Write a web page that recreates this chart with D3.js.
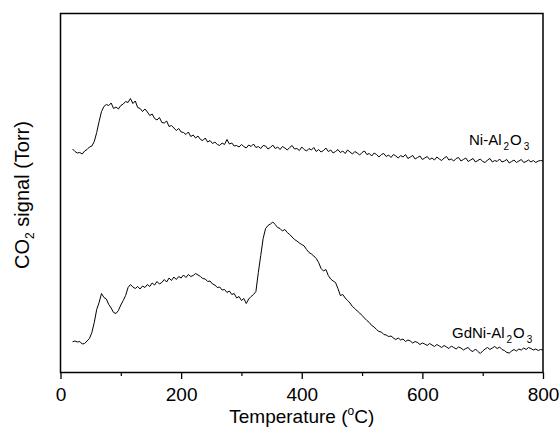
<!DOCTYPE html>
<html><head><meta charset="utf-8">
<script src="https://cdn.jsdelivr.net/npm/d3@7"></script>
<style>body{margin:0;background:#fff} text{font-family:Arial,"Liberation Sans",sans-serif;fill:#000}</style>
</head><body><svg id="c" width="560" height="431"></svg>
<script>
// Temperature (°C)
const temps = [20,24,28,32,36,40,44,48,52,56,60,64,68,72,76,80,84,88,92,96,100,104,108,112,116,120,124,128,132,136,140,144,148,152,156,160,164,168,172,176,180,184,188,192,196,200,204,208,212,216,220,224,228,232,236,240,244,248,252,256,260,264,268,272,276,280,284,288,292,296,300,304,308,312,316,320,324,328,332,336,340,344,348,352,356,360,364,368,372,376,380,384,388,392,396,400,404,408,412,416,420,424,428,432,436,440,444,448,452,456,460,464,468,472,476,480,484,488,492,496,500,504,508,512,516,520,524,528,532,536,540,544,548,552,556,560,564,568,572,576,580,584,588,592,596,600,604,608,612,616,620,624,628,632,636,640,644,648,652,656,660,664,668,672,676,680,684,688,692,696,700,704,708,712,716,720,724,728,732,736,740,744,748,752,756,760,764,768,772,776,780,784,788,792,796,800];
// CO2 signal, Ni-Al2O3 (arbitrary units, offset trace)
const niValues = [223.5,221,219.5,220,218.5,221.5,223,225.5,226.5,231,240,251,261,266,268,267,269.5,264,265.5,263.5,267,268.5,271,270,274,269,271.5,265,264,261,263.5,260.5,257,258.5,254,252.5,255,250,249.5,251.5,246,247,244.5,242,244,240.5,240,238,240.5,236,237.5,234.5,236.5,233,232,234.5,230.5,232,229,230.5,228,227,229.5,228,233,228.5,229.5,226.5,227,225.5,228,226,224.5,227.5,226,228.5,225,226,224,227,226.5,223.5,225,227.5,224,225.5,223,226,224.5,222.5,225,227,223.5,224,222,225.5,223,221.5,224,222.5,225,221,223,220.5,222,224.5,221,222.5,219.5,221,223,220,221.5,219,222.5,220.5,218.5,221,219.5,217.5,220,221.5,218,219,216.5,219.5,218,215.5,218,219,216,217.5,215,218,216.5,214.5,217,215.5,218,214,215.5,217,213.5,215,216.5,213,214.5,216,213,214.5,212.5,215.5,213.5,212,214.5,216,212.5,213.5,211.5,214,215,211.5,213,214.5,211,212.5,214,210.5,212,213.5,211,210,212.5,214,210.5,212,211,213.5,210.5,211.5,213,209.5,211,212.5,210,211.5,213,210,211,212.5,210.5,212,210,211.5,212,211.5];
// CO2 signal, GdNi-Al2O3
const gdniValues = [30.8,31.5,30.5,31,28.5,29,31.5,34,40,50,63,70,79,75,73.5,68,64.5,60,59,62,67.5,72,77,85,88,85.5,84,86,83.5,86.5,85,88,86,89.5,87.5,91,88.5,90,93,90.5,94.5,92,95.5,93,96,94.5,97.5,95,98,96,97,99,97.5,96,94,93.5,91,91.5,88.5,87.5,85,85.5,82.5,83,80,81.5,78,79,74.5,76,72,74,69,73.5,76,78,81,100,117,134,144,147,148.5,150.5,148,145,144,141.5,143,140,138,135.5,133,131.5,129.5,128,126.5,123,120,118.5,116.5,114,110,104,101.5,103,97,93.5,91.5,90,84,77,78,74.5,72,69.5,66,64,61.5,59.5,57,54.5,52,50,47,45.5,43,41,40.5,38,37.5,36,36.5,34.5,33,34.5,32.5,33.5,31,32.5,31.5,29.5,31,30,28,29.5,28.5,27,29,27.5,26,28,26.5,25,27,25.5,24,26.5,25,23.5,25.5,24.5,22.5,24,25,22,21,23.5,21,19,21.5,23.5,25,23,24.5,26,24,25.5,23,22,20,19.5,21.5,23,21.5,23.5,22.5,24.5,23,25,24,22.5,23.5,22,23,22.5];
const xTicks = [0,200,400,600,800];
const xMinorTicks = [100,300,500,700];
const seriesNames = [["Ni-Al","2","O","3"],["GdNi-Al","2","O","3"]];

const svg = d3.select("#c");
const L = 60.5, R = 543, T = 13.5, B = 372.5;
const x = d3.scaleLinear().domain([0,800]).range([L,R]);
const y = d3.scaleLinear().domain([0,359]).range([B,T]);

const line = d3.line().x(d=>x(d[0])).y(d=>y(d[1]));
[niValues, gdniValues].forEach(vals=>{
  const pts = temps.map((t,i)=>[t, vals[i]]).filter(d=>d[1]!=null);
  svg.append("path").datum(pts).attr("d", line)
    .attr("fill","none").attr("stroke","#000").attr("stroke-width",1).attr("stroke-linejoin","round");
});

// minor ticks
svg.append("g").attr("transform",`translate(0,${B})`)
  .call(d3.axisBottom(x).tickValues(xMinorTicks).tickSize(3.5).tickSizeOuter(0).tickFormat(""))
  .call(g=>g.select(".domain").remove())
  .call(g=>g.selectAll("line").attr("stroke-width",1.2));
// major ticks
svg.append("g").attr("transform",`translate(0,${B})`)
  .call(d3.axisBottom(x).tickValues(xTicks).tickSize(6.5).tickSizeOuter(0).tickPadding(9))
  .call(g=>g.select(".domain").remove())
  .call(g=>g.selectAll("line").attr("stroke-width",1.3))
  .call(g=>g.selectAll("text").attr("font-size",19).attr("font-family","Arial, 'Liberation Sans', sans-serif").attr("fill","#000"));

// frame
svg.append("rect").attr("x",L).attr("y",T).attr("width",R-L).attr("height",B-T)
  .attr("fill","none").attr("stroke","#000").attr("stroke-width",1.5);

// x title
const xt = svg.append("text").attr("x",(L+R)/2).attr("y",423).attr("text-anchor","middle").attr("font-size",19);
xt.append("tspan").text("Temperature (");
xt.append("tspan").attr("font-size",12).attr("dy",-8).text("o");
xt.append("tspan").attr("dy",8).text("C)");

// y title
const yt = svg.append("text").attr("transform",`translate(29,${(T+B)/2+2}) rotate(-90)`).attr("text-anchor","middle").attr("font-size",20);
yt.append("tspan").text("CO");
yt.append("tspan").attr("font-size",12).attr("dy",5).text("2");
yt.append("tspan").attr("dy",-5).text(" signal (Torr)");

// series labels
function seriesLabel(parts, xs, ys){
  const t = svg.append("text").attr("x",xs).attr("y",ys).attr("font-size",15);
  t.append("tspan").text(parts[0]);
  t.append("tspan").attr("font-size",10).attr("dx",2).attr("dy",5).text(parts[1]);
  t.append("tspan").attr("dx",1).attr("dy",-5).text(parts[2]);
  t.append("tspan").attr("font-size",10).attr("dx",2).attr("dy",5).text(parts[3]);
}
seriesLabel(seriesNames[0], 469, 145);
seriesLabel(seriesNames[1], 452, 338);
</script></body></html>
